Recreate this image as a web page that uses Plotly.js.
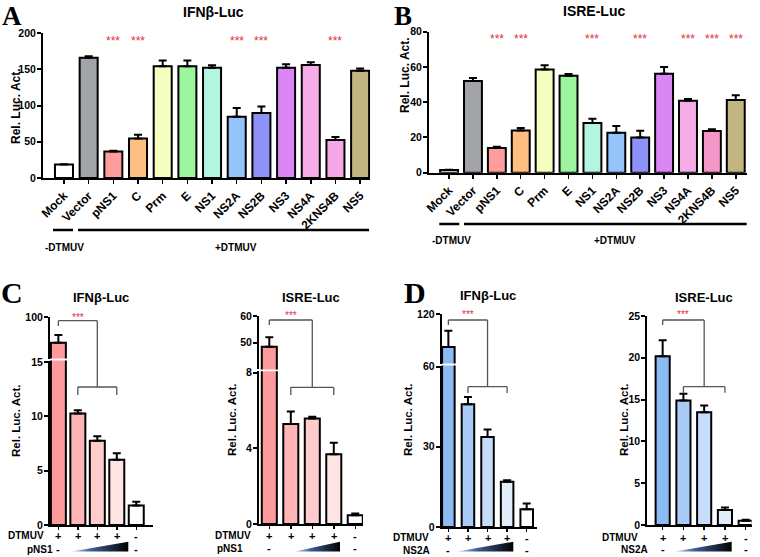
<!DOCTYPE html>
<html><head><meta charset="utf-8">
<script src="https://cdn.plot.ly/plotly-3.0.1.min.js"></script>
<style>body{margin:0;background:#fff}</style>
</head><body><div id="chart" style="width:760px;height:557px"></div>
<script>
// ---------- Panel A / B data ----------
const genes = ['Mock','Vector','pNS1','C','Prm','E','NS1','NS2A','NS2B','NS3','NS4A','2KNS4B','NS5'];
const ifnA    = [18.5, 166, 36.5, 54.6, 154, 154, 152, 84.5, 89.5, 152, 156, 52.5, 148];
const ifnAErr = [0.6, 2, 1, 5, 8, 8, 3.5, 12, 9, 5, 3.5, 4, 3];
const ifnAStars = ['', '', '***', '***', '', '', '', '***', '***', '', '', '***', ''];
const isreB    = [1.5, 52, 14, 24, 58.5, 55, 28.2, 22.7, 20, 56.2, 40.8, 23.6, 41.3];
const isreBErr = [0.2, 1.8, 0.7, 1.4, 2.4, 1, 2.4, 3.8, 3.8, 3.8, 1, 1, 2.6];
const isreBStars = ['', '', '***', '***', '', '', '***', '', '***', '', '***', '***', '***'];
const colorsA = ['#ffffff','#a3a3aa','#ff9c9c','#ffbf80','#f6ffc0','#9cf59c','#b4f5e0','#94c4fa','#8e92f8','#da86f5','#f7ace8','#f5a8e8','#c2b680'];
const colorsB = ['#ffffff','#a3a3aa','#ff9c9c','#ffbf80','#f6ffc0','#9cf59c','#b4f5e0','#94c4fa','#8e92f8','#da86f5','#f7ace8','#f596c8','#c2b680'];

// ---------- Panel C / D data ----------
const groups = ['g1','g2','g3','g4','g5'];
const dtmuvSigns = ['+','+','+','+','-'];
const proteinSigns = ['-','','','','-'];
const cIfn    = [50.7, 10.25, 7.75, 6.0, 1.8];
const cIfnErr = [15, 0.3, 0.42, 0.6, 0.33];
const cIsre    = [48.5, 5.29, 5.57, 3.69, 0.46];
const cIsreErr = [3.5, 0.65, 0.1, 0.6, 0.1];
const dIfn    = [80, 45.9, 33.7, 16.9, 6.6];
const dIfnErr = [20, 2.7, 2.8, 0.6, 2.2];
const dIsre    = [20.2, 14.9, 13.5, 1.8, 0.52];
const dIsreErr = [1.9, 0.8, 0.8, 0.3, 0.1];
const colorsC = ['#ff9a9c','#ffb4b6','#ffcccd','#ffe4e4','#ffffff'];
const colorsD = ['#8cbaf2','#a9cbf5','#c6dcf8','#e2edfb','#ffffff'];

// ---------- helpers ----------
const W = 760, H = 557;
const P = px => px / W, Q = py => 1 - py / H;
const FONT = 'Liberation Sans, Arial, sans-serif';
const bf = (size, color) => ({family: FONT, size: size, color: color || '#000', weight: 'bold'});

function barTrace(x, y, err, colors, xa, ya, width) {
  return {
    type: 'bar', x: x, y: y, xaxis: xa, yaxis: ya, width: width,
    marker: {color: colors, line: {color: '#000', width: 2}},
    error_y: {type: 'data', symmetric: false, array: err, arrayminus: err.map(() => 0),
              color: '#000', thickness: 2, width: 4},
    hoverinfo: 'skip', showlegend: false
  };
}
function yax(domPx, range, tickvals, anchor) {
  return {domain: [Q(domPx[0]), Q(domPx[1])], range: range, tickvals: tickvals, anchor: anchor,
          showline: true, linewidth: 2, linecolor: '#000', ticks: 'outside', ticklen: 4, tickwidth: 2,
          tickcolor: '#000', showgrid: false, zeroline: false, tickfont: bf(10.5), fixedrange: true,
          ticklabelstandoff: -1};
}
function xax(domPx, range, anchor, extra) {
  return Object.assign({domain: [P(domPx[0]), P(domPx[1])], range: range, anchor: anchor, type: 'category',
          showline: true, linewidth: 2, linecolor: '#000', ticks: 'outside', ticklen: 4, tickwidth: 1.5,
          tickcolor: '#000', showgrid: false, zeroline: false, fixedrange: true}, extra || {});
}

const traces = [
  barTrace(genes, ifnA, ifnAErr, colorsA, 'x', 'y', 0.73),
  barTrace(genes, isreB, isreBErr, colorsB, 'x2', 'y2', 0.75),
  barTrace(groups, cIfn, cIfnErr, colorsC, 'x3', 'y3', 0.77),
  barTrace(groups, cIfn, cIfnErr, colorsC, 'x3', 'y4', 0.77),
  barTrace(groups, cIsre, cIsreErr, colorsC, 'x4', 'y5', 0.7),
  barTrace(groups, cIsre, cIsreErr, colorsC, 'x4', 'y6', 0.7),
  barTrace(groups, dIfn, dIfnErr, colorsD, 'x5', 'y7', 0.64),
  barTrace(groups, dIfn, dIfnErr, colorsD, 'x5', 'y8', 0.64),
  barTrace(groups, dIsre, dIsreErr, colorsD, 'x6', 'y9', 0.68)
];

// gradient dose wedges (decoration) on a full-page overlay axis in pixel units
const wedges = [[71.7,128.3],[295,340],[457.3,513.3],[675,731.7]];
wedges.forEach(w => {
  traces.push({type: 'scatter', mode: 'lines', xaxis: 'x7', yaxis: 'y10',
    x: [w[0], w[1], w[1], w[0]], y: [551.5, 551.5, 541.7, 551.5],
    fill: 'toself', line: {width: 0, color: 'rgba(0,0,0,0)'},
    fillgradient: {type: 'horizontal', colorscale: [[0,'#c6d4ec'],[0.35,'#3d5d96'],[1,'#000000']]},
    hoverinfo: 'skip', showlegend: false});
});

const tickA = {tickangle: -45, tickfont: bf(12), categoryarray: genes, categoryorder: 'array'};
const tickCD = {showticklabels: false, ticklen: 3};

const layout = {
  width: W, height: H, margin: {l: 0, r: 0, t: 0, b: 0},
  paper_bgcolor: '#ffffff', plot_bgcolor: 'rgba(0,0,0,0)', bargap: 0.2,
  showlegend: false,
  xaxis:  xax([43, 370], [-0.85, 12.4], 'y', tickA),
  yaxis:  yax([178, 33], [0, 200], [0,50,100,150,200], 'x'),
  xaxis2: xax([429, 747], [-0.84, 12.47], 'y2', tickA),
  yaxis2: yax([172.7, 31.7], [0, 80], [0,20,40,60,80], 'x2'),
  xaxis3: xax([50, 153], [-0.43, 4.86], 'y3', tickCD),
  yaxis3: yax([525, 360.5], [0, 15.13], [0,5,10,15], 'x3'),
  yaxis4: yax([358.5, 317.3], [20, 100], [100], 'x3'),
  xaxis4: xax([259, 363], [-0.48, 4.36], 'y5', tickCD),
  yaxis5: yax([524, 371.3], [0, 8.07], [0,4,8], 'x4'),
  yaxis6: yax([369.4, 316], [40, 60], [50,60], 'x4'),
  xaxis5: xax([441.7, 536.7], [-0.34, 4.51], 'y7', tickCD),
  yaxis7: yax([527, 365.5], [0, 60.4], [0,30,60], 'x5'),
  yaxis8: yax([363.5, 314.3], [60, 120], [120], 'x5'),
  xaxis6: xax([647.3, 751.7], [-0.74, 4.29], 'y9', tickCD),
  yaxis9: yax([525, 316], [0, 25], [0,5,10,15,20,25], 'x6'),
  xaxis7: {domain: [0, 1], range: [0, W], anchor: 'y10', visible: false, fixedrange: true},
  yaxis10: {domain: [0, 1], range: [H, 0], anchor: 'x7', visible: false, fixedrange: true},
  shapes: [], annotations: []
};

const ann = layout.annotations, shp = layout.shapes;
function text(t, x, y, font, opts) {
  ann.push(Object.assign({text: t, x: P(x), y: Q(y), xref: 'paper', yref: 'paper', showarrow: false,
    xanchor: 'center', yanchor: 'middle', font: font}, opts || {}));
}
function lineP(x0, y0, x1, y1, w, c) {
  shp.push({type: 'line', xref: 'paper', yref: 'paper', x0: P(x0), y0: Q(y0), x1: P(x1), y1: Q(y1),
    line: {color: c || '#000', width: w}});
}

// panel letters
const serif = s => ({family: 'Liberation Serif, Times New Roman, serif', size: s, color: '#000', weight: 'bold'});
text('A', 12, 0, serif(27), {yanchor: 'top', borderpad: 0});
text('B', 403, 0, serif(27), {yanchor: 'top', borderpad: 0});
text('C', 12, 292, serif(30));
text('D', 415, 292, serif(30));

// titles
text('IFNβ-Luc', 213.5, 12, bf(14));
text('ISRE-Luc', 594, 11, bf(14));
text('IFNβ-Luc', 101, 297, bf(13));
text('ISRE-Luc', 311, 297, bf(13));
text('IFNβ-Luc', 487.5, 295, bf(13));
text('ISRE-Luc', 704, 297, bf(13));

// y titles
const yt = (x, y, s) => text('Rel. Luc. Act.', x, y, bf(s), {textangle: -90});
yt(16, 106, 12); yt(405, 75, 12);
yt(16, 421, 11.5); yt(232, 420, 11.5); yt(408, 420, 11.5); yt(624, 420, 11.5);

// significance stars A / B
genes.forEach((g, i) => {
  if (ifnAStars[i]) ann.push({text: ifnAStars[i], x: g, xref: 'x', y: Q(41), yref: 'paper', showarrow: false,
    font: {family: FONT, size: 12, color: '#e0303a'}, yanchor: 'middle'});
  if (isreBStars[i]) ann.push({text: isreBStars[i], x: g, xref: 'x2', y: Q(39.5), yref: 'paper', showarrow: false,
    font: {family: FONT, size: 12, color: '#e0303a'}, yanchor: 'middle'});
});

// DTMUV grouping lines under A and B
lineP(53, 230, 73, 230, 2.5); lineP(78, 230, 369, 230, 2.5);
text('-DTMUV', 64, 248, bf(10)); text('+DTMUV', 236, 248, bf(10));
lineP(439.3, 224, 459.3, 224, 2.5); lineP(464, 224, 746.7, 224, 2.5);
text('-DTMUV', 451, 240, bf(10)); text('+DTMUV', 615, 240, bf(10));

// brackets + stars for C / D
function bracket(xa, yTop, yLeftEnd, yLow, yTickEnd, starY) {
  const s = {type: 'line', xref: xa, yref: 'paper', line: {color: '#555', width: 1.3}};
  shp.push(Object.assign({}, s, {x0: 0, x1: 2, y0: Q(yTop), y1: Q(yTop)}));
  shp.push(Object.assign({}, s, {x0: 0, x1: 0, y0: Q(yTop), y1: Q(yLeftEnd)}));
  shp.push(Object.assign({}, s, {x0: 2, x1: 2, y0: Q(yTop), y1: Q(yLow)}));
  shp.push(Object.assign({}, s, {x0: 1, x1: 3, y0: Q(yLow), y1: Q(yLow)}));
  shp.push(Object.assign({}, s, {x0: 1, x1: 1, y0: Q(yLow), y1: Q(yTickEnd)}));
  shp.push(Object.assign({}, s, {x0: 3, x1: 3, y0: Q(yLow), y1: Q(yTickEnd)}));
  ann.push({text: '***', x: groups[1], xref: xa, y: Q(starY), yref: 'paper', showarrow: false,
    font: {family: FONT, size: 10, color: '#e0303a'}, yanchor: 'middle'});
}
bracket('x3', 320.7, 326, 387, 395, 317);
bracket('x4', 320, 325, 387.3, 395, 315.5);
bracket('x5', 320, 325, 386.7, 393, 314.5);
bracket('x6', 320, 325, 386.7, 392.7, 314);

// row labels under C / D
function rowLabels(xa, dtX, dtY, protName, prX, prY) {
  text('DTMUV', dtX, dtY, bf(10), {xanchor: 'right'});
  text(protName, prX, prY, bf(10), {xanchor: 'right'});
  groups.forEach((g, i) => {
    ann.push({text: dtmuvSigns[i], x: g, xref: xa, y: Q(dtY + 1), yref: 'paper',
      showarrow: false, font: bf(11), yanchor: 'middle'});
    if (proteinSigns[i]) ann.push({text: proteinSigns[i], x: g, xref: xa, y: Q(prY), yref: 'paper',
      showarrow: false, font: bf(11), yanchor: 'middle'});
  });
}
rowLabels('x3', 45.5, 535, 'pNS1', 55, 549);
rowLabels('x4', 253, 535, 'pNS1', 245, 548);
rowLabels('x5', 431, 537, 'NS2A', 432, 550);
rowLabels('x6', 640, 537, 'NS2A', 650, 549);

Plotly.newPlot('chart', traces, layout, {staticPlot: true, displayModeBar: false});
</script>
</body></html>
